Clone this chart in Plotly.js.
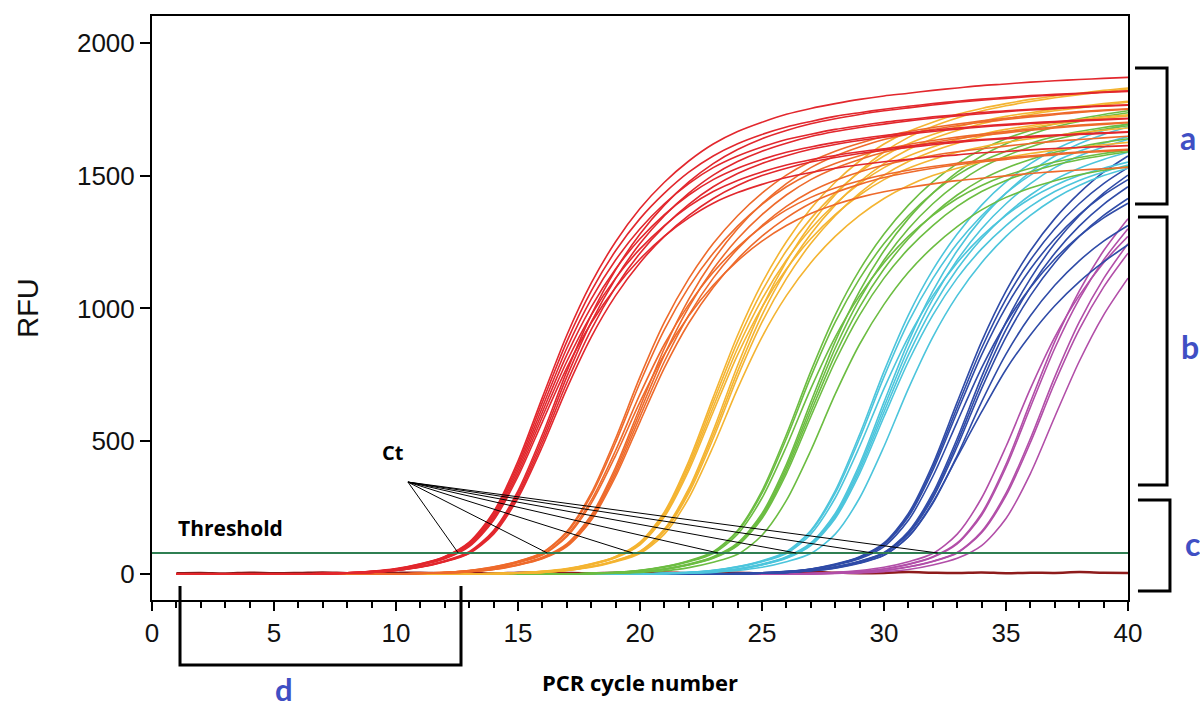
<!DOCTYPE html>
<html>
<head>
<meta charset="utf-8">
<script src="https://cdn.plot.ly/plotly-3.0.1.min.js"></script>
<style>html,body{margin:0;padding:0;background:#fff;}#chart{width:1200px;height:713px;}</style>
</head>
<body>
<div id="chart"></div>
<script>
// PCR cycle numbers
const cycles = [1,2,3,4,5, 6,7,8,9,10, 11,12,13,14,15, 16,17,18,19,20, 21,22,23,24,25, 26,27,28,29,30, 31,32,33,34,35, 36,37,38,39,40];

// RFU readings per well, grouped by dilution (colour)
const redRFU = [
  [0,0,0,0,0, 0, 2,4,10,20,38, 66,120,234,425,665, 899,1095,1251,1376,1475, 1555,1619,1666,1701,1731, 1753,1771,1787,1800,1810, 1821,1830,1839,1845,1852, 1857,1862,1866,1870],
  [0,0,0,0,0, 0, 2,4,10,19,37, 65,117,228,413,647, 875,1065,1217,1338,1434, 1513,1574,1620,1655,1683, 1704,1723,1737,1750,1761, 1771,1780,1788,1795,1801, 1806,1810,1815,1819],
  [0,0,0,0,0, 0, 2,4,9,19,36, 63,113,221,402,628, 850,1035,1182,1300,1394, 1470,1530,1574,1608,1636, 1656,1674,1688,1701,1711, 1721,1729,1738,1744,1750, 1755,1759,1763,1767],
  [0,0,0,0,0, 0,0, 3,6,13,27,48, 81,160,304,510,742, 948,1112,1244,1349,1434, 1502,1553,1592,1622,1647, 1666,1681,1694,1706,1716, 1725,1733,1741,1747,1752, 1757,1761,1765],
  [0,0,0,0,0, 0, 2,4,9,18,35, 61,110,215,390,610, 825,1005,1148,1262,1353, 1427,1485,1528,1561,1588, 1608,1625,1639,1651,1661, 1671,1679,1687,1693,1699, 1704,1708,1712,1716],
  [0,0,0,0,0, 0,0, 3,6,13,26,47, 79,155,295,495,720, 920,1080,1208,1310,1392, 1458,1508,1546,1575,1599, 1617,1632,1645,1656,1666, 1675,1683,1690,1696,1701, 1706,1710,1714],
  [0,0,0,0,0, 0, 2,4,9,17,34, 59,107,209,378,592, 800,975,1114,1224,1312, 1384,1440,1482,1514,1540, 1560,1576,1590,1601,1611, 1621,1629,1636,1642,1648, 1653,1657,1661,1665],
  [0,0,0,0,0, 0,0, 3,6,13,25,46, 77,150,286,480,698, 892,1048,1172,1271,1350, 1414,1463,1500,1528,1551, 1568,1583,1596,1606,1616, 1625,1633,1639,1645,1650, 1655,1659,1663],
  [0,0,0,0,0, 0, 2,4,8,17,33, 57,103,202,367,573, 776,945,1079,1186,1272, 1341,1396,1436,1467,1493, 1512,1528,1541,1552,1561, 1571,1578,1586,1591,1597, 1602,1606,1609,1613],
  [0,0,0,0,0, 0,0, 3,6,14,28,50, 84,164,313,525,763, 975,1145,1280,1389,1476, 1545,1598,1639,1670,1695, 1714,1730,1744,1755,1766, 1776,1784,1791,1798,1803, 1808,1813,1817]
];
const orangeRFU = [
  [0,0,0,0,0, 0,0,0,0,0, 3,6,13,26,47, 79,155,295,495,720, 920,1080,1208,1310,1392, 1458,1508,1546,1575,1599, 1617,1632,1645,1656,1666, 1675,1683,1690,1696,1701],
  [0,0,0,0,0, 0,0,0,0,0, 3,6,12,24,44, 74,146,277,465,677, 865,1015,1136,1231,1308, 1371,1418,1453,1481,1503, 1520,1534,1546,1557,1566, 1575,1582,1589,1594,1599],
  [0,0,0,0,0, 0,0,0,0,0, 2,4,9,17,34, 59,107,209,378,592, 800,975,1114,1224,1312, 1384,1440,1482,1514,1540, 1560,1576,1590,1601,1611, 1621,1629,1636,1642,1648],
  [0,0,0,0,0, 0,0,0,0,0, 2,4,9,19,36, 63,113,221,402,628, 850,1035,1182,1300,1394, 1470,1530,1574,1608,1636, 1656,1674,1688,1701,1711, 1721,1729,1738,1744,1750],
  [0,0,0,0,0, 0,0,0,0,0, 3,5,12,23,42, 71,140,266,446,648, 828,972,1087,1179,1253, 1312,1357,1391,1418,1439, 1455,1469,1481,1490,1499, 1508,1515,1521,1526,1531],
  [0,0,0,0,0, 0,0,0,0,0, 2,4,9,18,35, 61,110,215,390,610, 825,1005,1148,1262,1353, 1427,1485,1528,1561,1588, 1608,1625,1639,1651,1661, 1671,1679,1687,1693,1699],
  [0,0,0,0,0, 0,0,0,0,0, 2,4,8,17,33, 57,103,202,367,573, 776,945,1079,1186,1272, 1341,1396,1436,1467,1493, 1512,1528,1541,1552,1561, 1571,1578,1586,1591,1597],
  [0,0,0,0,0, 0,0,0,0,0, 3,6,13,27,48, 81,160,304,510,742, 948,1112,1244,1349,1434, 1502,1553,1592,1622,1647, 1666,1681,1694,1706,1716, 1725,1733,1741,1747,1752]
];
const yellowRFU = [
  [0,0,0,0,0, 0,0,0,0,0, 0,0,0, 2,4,10,20,38, 66,120,234,425,665, 899,1095,1251,1376,1475, 1555,1619,1666,1701,1731, 1753,1771,1787,1800,1810, 1821,1830],
  [0,0,0,0,0, 0,0,0,0,0, 0,0,0, 2,4,10,19,37, 65,117,228,413,647, 875,1065,1217,1338,1434, 1513,1574,1620,1655,1683, 1704,1723,1737,1750,1761, 1771,1780],
  [0,0,0,0,0, 0,0,0,0,0, 0,0,0,0, 3,6,13,27,48, 81,160,304,510,742, 948,1112,1244,1349,1434, 1502,1553,1592,1622,1647, 1666,1681,1694,1706,1716, 1725],
  [0,0,0,0,0, 0,0,0,0,0, 0,0,0,0, 3,6,14,28,50, 84,164,313,525,763, 975,1145,1280,1389,1476, 1545,1598,1639,1670,1695, 1714,1730,1744,1755,1766, 1776],
  [0,0,0,0,0, 0,0,0,0,0, 0,0,0, 2,4,9,18,35, 61,110,215,390,610, 825,1005,1148,1262,1353, 1427,1485,1528,1561,1588, 1608,1625,1639,1651,1661, 1671,1679],
  [0,0,0,0,0, 0,0,0,0,0, 0,0,0, 2,4,9,19,36, 63,113,221,402,628, 850,1035,1182,1300,1394, 1470,1530,1574,1608,1636, 1656,1674,1688,1701,1711, 1721,1729],
  [0,0,0,0,0, 0,0,0,0,0, 0,0,0,0, 3,6,13,25,46, 77,150,286,480,698, 892,1048,1172,1271,1350, 1414,1463,1500,1528,1551, 1568,1583,1596,1606,1616, 1625],
  [0,0,0,0,0, 0,0,0,0,0, 0,0,0,0, 3,7,14,28,51, 86,169,322,540,785, 1003,1177,1317,1428,1517, 1589,1644,1685,1717,1743, 1763,1779,1793,1805,1816, 1826]
];
const greenRFU = [
  [0,0,0,0,0, 0,0,0,0,0, 0,0,0,0,0, 0,0, 3,6,14,28,50, 84,164,313,525,763, 975,1145,1280,1389,1476, 1545,1598,1639,1670,1695, 1714,1730,1744],
  [0,0,0,0,0, 0,0,0,0,0, 0,0,0,0,0, 0,0, 3,6,13,27,48, 81,160,304,510,742, 948,1112,1244,1349,1434, 1502,1553,1592,1622,1647, 1666,1681,1694],
  [0,0,0,0,0, 0,0,0,0,0, 0,0,0,0,0, 0,0, 2,4,10,19,37, 65,117,228,413,647, 875,1065,1217,1338,1434, 1513,1574,1620,1655,1683, 1704,1723,1737],
  [0,0,0,0,0, 0,0,0,0,0, 0,0,0,0,0, 0,0, 2,4,9,18,35, 61,110,215,390,610, 825,1005,1148,1262,1353, 1427,1485,1528,1561,1588, 1608,1625,1639],
  [0,0,0,0,0, 0,0,0,0,0, 0,0,0,0,0, 0,0, 3,6,13,25,46, 77,150,286,480,698, 892,1048,1172,1271,1350, 1414,1463,1500,1528,1551, 1568,1583,1596],
  [0,0,0,0,0, 0,0,0,0,0, 0,0,0,0,0, 0,0, 2,4,9,19,36, 63,113,221,402,628, 850,1035,1182,1300,1394, 1470,1530,1574,1608,1636, 1656,1674,1688],
  [0,0,0,0,0, 0,0,0,0,0, 0,0,0,0,0, 0,0, 2,4,9,17,34, 59,107,209,378,592, 800,975,1114,1224,1312, 1384,1440,1482,1514,1540, 1560,1576,1590],
  [0,0,0,0,0, 0,0,0,0,0, 0,0,0,0,0, 0,0,0, 3,6,12,24,44, 74,146,277,465,677, 865,1015,1136,1231,1308, 1371,1418,1453,1481,1503, 1520,1534]
];
const cyanRFU = [
  [0,0,0,0,0, 0,0,0,0,0, 0,0,0,0,0, 0,0,0,0,0, 3,6,14,28,50, 84,164,313,525,763, 975,1145,1280,1389,1476, 1545,1598,1639,1670,1695],
  [0,0,0,0,0, 0,0,0,0,0, 0,0,0,0,0, 0,0,0,0,0, 3,6,13,27,48, 81,160,304,510,742, 948,1112,1244,1349,1434, 1502,1553,1592,1622,1647],
  [0,0,0,0,0, 0,0,0,0,0, 0,0,0,0,0, 0,0,0,0,0, 2,4,10,19,37, 65,117,228,413,647, 875,1065,1217,1338,1434, 1513,1574,1620,1655,1683],
  [0,0,0,0,0, 0,0,0,0,0, 0,0,0,0,0, 0,0,0,0,0, 2,4,9,18,35, 61,110,215,390,610, 825,1005,1148,1262,1353, 1427,1485,1528,1561,1588],
  [0,0,0,0,0, 0,0,0,0,0, 0,0,0,0,0, 0,0,0,0,0, 3,6,13,25,46, 77,150,286,480,698, 892,1048,1172,1271,1350, 1414,1463,1500,1528,1551],
  [0,0,0,0,0, 0,0,0,0,0, 0,0,0,0,0, 0,0,0,0,0, 2,4,9,19,36, 63,113,221,402,628, 850,1035,1182,1300,1394, 1470,1530,1574,1608,1636],
  [0,0,0,0,0, 0,0,0,0,0, 0,0,0,0,0, 0,0,0,0,0, 0, 3,6,13,25,46, 77,150,286,480,698, 892,1048,1172,1271,1350, 1414,1463,1500,1528],
  [0,0,0,0,0, 0,0,0,0,0, 0,0,0,0,0, 0,0,0,0,0, 2,4,9,17,34, 59,107,209,378,592, 800,975,1114,1224,1312, 1384,1440,1482,1514,1540]
];
const blueRFU = [
  [0,0,0,0,0, 0,0,0,0,0, 0,0,0,0,0, 0,0,0,0,0, 0,0,0, 2,4,10,19,37, 65,117,228,413,647, 875,1065,1217,1338,1434, 1513,1574],
  [0,0,0,0,0, 0,0,0,0,0, 0,0,0,0,0, 0,0,0,0,0, 0,0,0, 2,4,9,19,36, 63,113,221,402,628, 850,1035,1182,1300,1394, 1470,1530],
  [0,0,0,0,0, 0,0,0,0,0, 0,0,0,0,0, 0,0,0,0,0, 0,0,0, 2,4,9,18,35, 61,110,215,390,610, 825,1005,1148,1262,1353, 1427,1485],
  [0,0,0,0,0, 0,0,0,0,0, 0,0,0,0,0, 0,0,0,0,0, 0,0,0,0, 3,6,13,26,47, 79,155,295,495,720, 920,1080,1208,1310,1392, 1458],
  [0,0,0,0,0, 0,0,0,0,0, 0,0,0,0,0, 0,0,0,0,0, 0,0,0,0, 3,6,13,25,46, 77,150,286,480,698, 892,1048,1172,1271,1350, 1414],
  [0,0,0,0,0, 0,0,0,0,0, 0,0,0,0,0, 0,0,0,0,0, 0,0,0, 2,4,8,17,33, 57,103,202,367,573, 776,945,1079,1186,1272, 1341,1396],
  [0,0,0,0,0, 0,0,0,0,0, 0,0,0,0,0, 0,0,0,0,0, 0,0,0,0, 3,6,13,27,48, 81,160,304,510,742, 948,1112,1244,1349,1434, 1502],
  [0,0,0,0,0, 0,0,0,0,0, 0,0,0,0,0, 0,0,0,0,0, 0,0,0,0, 3,5,12,23,42, 71,140,266,446,648, 828,972,1087,1179,1253, 1312],
  [0,0,0,0,0, 0,0,0,0,0, 0,0,0,0,0, 0,0,0,0,0, 0,0,0, 2,4,7,12,22, 40,70,140,270,440, 610,770,900,1010,1100, 1175,1240]
];
const purpleRFU = [
  [0,0,0,0,0, 0,0,0,0,0, 0,0,0,0,0, 0,0,0,0,0, 0,0,0,0,0, 0, 2,4,9,19, 36,63,113,221,402, 628,850,1035,1182,1300],
  [0,0,0,0,0, 0,0,0,0,0, 0,0,0,0,0, 0,0,0,0,0, 0,0,0,0,0, 0, 3,6,13,25, 46,77,150,286,480, 698,892,1048,1172,1271],
  [0,0,0,0,0, 0,0,0,0,0, 0,0,0,0,0, 0,0,0,0,0, 0,0,0,0,0, 0, 2,4,10,19, 37,65,117,228,413, 647,875,1065,1217,1338],
  [0,0,0,0,0, 0,0,0,0,0, 0,0,0,0,0, 0,0,0,0,0, 0,0,0,0,0, 0,0, 3,6,13, 26,47,79,155,295, 495,720,920,1080,1208],
  [0,0,0,0,0, 0,0,0,0,0, 0,0,0,0,0, 0,0,0,0,0, 0,0,0,0,0, 0,0, 3,6,13, 27,48,81,160,304, 510,742,948,1112,1244],
  [0,0,0,0,0, 0,0,0,0,0, 0,0,0,0,0, 0,0,0,0,0, 0,0,0,0,0, 0,0, 2,4,9, 17,34,59,107,209, 378,592,800,975,1114]
];
// no-template control (flat)
const ntcRFU = [3,4,2,5,3, 4,6,3,2,4, 5,3,4,2,5, 6,4,3,5,4, 6,3,4,5,2, 4,7,5,3,4, 7,5,4,6,3, 5,4,7,5,4];

// threshold and Ct values (cycle where each dilution crosses the threshold)
const thresholdRFU = 79;
const ctValues = [12.55, 16.2, 19.7, 23.2, 26.4, 29.55, 32.2];
const ctLabelCycle = 10.49, ctLabelRFU = 346;

// ---- styles ----
const groups = [
  {data: purpleRFU, color: '#b24ea8'},
  {data: blueRFU,   color: '#2f4ba7'},
  {data: cyanRFU,   color: '#4cc5dc'},
  {data: greenRFU,  color: '#6cbd42'},
  {data: yellowRFU, color: '#f4b431'},
  {data: orangeRFU, color: '#ee6a2b'},
  {data: redRFU,    color: '#e2272d'}
];

const traces = [];
traces.push({x: cycles, y: ntcRFU, type: 'scatter', mode: 'lines',
  line: {color: '#8e1b1b', width: 2.5, shape: 'spline'}, hoverinfo: 'skip', showlegend: false});
groups.forEach(g => {
  g.data.forEach(curve => {
    traces.push({x: cycles, y: curve, type: 'scatter', mode: 'lines',
      line: {color: g.color, width: 1.6, shape: 'spline', smoothing: 0.8},
      hoverinfo: 'skip', showlegend: false});
  });
});
// threshold line
traces.push({x: [0, 40], y: [thresholdRFU, thresholdRFU], type: 'scatter', mode: 'lines',
  line: {color: '#2f7f52', width: 2}, hoverinfo: 'skip', showlegend: false});
// Ct pointer lines
const ctX = [], ctY = [];
ctValues.forEach(c => { ctX.push(ctLabelCycle, c, null); ctY.push(ctLabelRFU, thresholdRFU, null); });
traces.push({x: ctX, y: ctY, type: 'scatter', mode: 'lines',
  line: {color: '#000', width: 1}, hoverinfo: 'skip', showlegend: false});

const blue = '#3f4fc4';
const bracket = (path) => ({type: 'path', xref: 'paper', yref: 'paper', path: path,
  line: {color: '#000', width: 3}, layer: 'above'});
const boldFont = 'Open Sans, Lato, sans-serif';

const layout = {
  width: 1200, height: 713,
  margin: {l: 152, r: 72, t: 16, b: 113, pad: 0},
  paper_bgcolor: '#fff', plot_bgcolor: '#fff',
  font: {family: 'Liberation Sans, Arial, sans-serif', color: '#111'},
  xaxis: {
    range: [0, 40], tick0: 0, dtick: 5, ticks: 'outside', ticklen: 9, tickwidth: 2, tickcolor: '#000',
    showline: true, linewidth: 2, linecolor: '#000', mirror: true, showgrid: false, zeroline: false,
    tickfont: {size: 26, family: 'Liberation Sans, Arial, sans-serif', color: '#111'},
    minor: {dtick: 1, ticks: 'outside', ticklen: 6, tickwidth: 2, tickcolor: '#000', showgrid: false},
    title: {text: 'PCR cycle number', standoff: 28,
      font: {family: boldFont, size: 22, weight: 'bold', color: '#000'}},
    automargin: false
  },
  yaxis: {
    range: [-98, 2101], tick0: 0, dtick: 500, ticks: 'outside', ticklen: 10, tickwidth: 2, tickcolor: '#000',
    showline: true, linewidth: 2, linecolor: '#000', mirror: true, showgrid: false, zeroline: false,
    tickfont: {size: 26, family: 'Liberation Sans, Arial, sans-serif', color: '#111'},
    title: {text: 'RFU', standoff: 30, font: {size: 29, family: 'Liberation Sans, Arial, sans-serif', color: '#111'}},
    automargin: false
  },
  shapes: [
    bracket('M 1.0072 0.911 L 1.040 0.911 L 1.040 0.678 L 1.0072 0.678'),
    bracket('M 1.0102 0.6558 L 1.040 0.6558 L 1.040 0.1969 L 1.0102 0.1969'),
    bracket('M 1.0102 0.1712 L 1.043 0.1712 L 1.043 0.0154 L 1.0102 0.0154'),
    bracket('M 0.0287 0.024 L 0.0287 -0.1113 L 0.3166 -0.1113 L 0.3166 0.024')
  ],
  annotations: [
    {text: 'Threshold', x: 0.98, y: 173, xref: 'x', yref: 'y', xanchor: 'left', yanchor: 'middle', showarrow: false,
      font: {family: boldFont, size: 21, weight: 'bold', color: '#000'}},
    {text: 'Ct', x: 9.88, y: 459, xref: 'x', yref: 'y', xanchor: 'center', yanchor: 'middle', showarrow: false,
      font: {family: boldFont, size: 20, weight: 'bold', color: '#000'}},
    {text: 'a', x: 1.0615, y: 0.7928, xref: 'paper', yref: 'paper', xanchor: 'center', yanchor: 'middle', showarrow: false,
      font: {family: 'Lato, Open Sans, sans-serif', size: 32, weight: 'bold', color: blue}},
    {text: 'b', x: 1.0635, y: 0.4349, xref: 'paper', yref: 'paper', xanchor: 'center', yanchor: 'middle', showarrow: false,
      font: {family: 'Lato, Open Sans, sans-serif', size: 32, weight: 'bold', color: blue}},
    {text: 'c', x: 1.0656, y: 0.0976, xref: 'paper', yref: 'paper', xanchor: 'center', yanchor: 'middle', showarrow: false,
      font: {family: 'Lato, Open Sans, sans-serif', size: 32, weight: 'bold', color: blue}},
    {text: 'd', x: 0.1352, y: -0.188, xref: 'paper', yref: 'paper', xanchor: 'center', yanchor: 'bottom', showarrow: false,
      font: {family: 'Lato, Open Sans, sans-serif', size: 31, weight: 'bold', color: blue}}
  ]
};

Plotly.newPlot('chart', traces, layout, {displayModeBar: false, staticPlot: true});
</script>
</body>
</html>
